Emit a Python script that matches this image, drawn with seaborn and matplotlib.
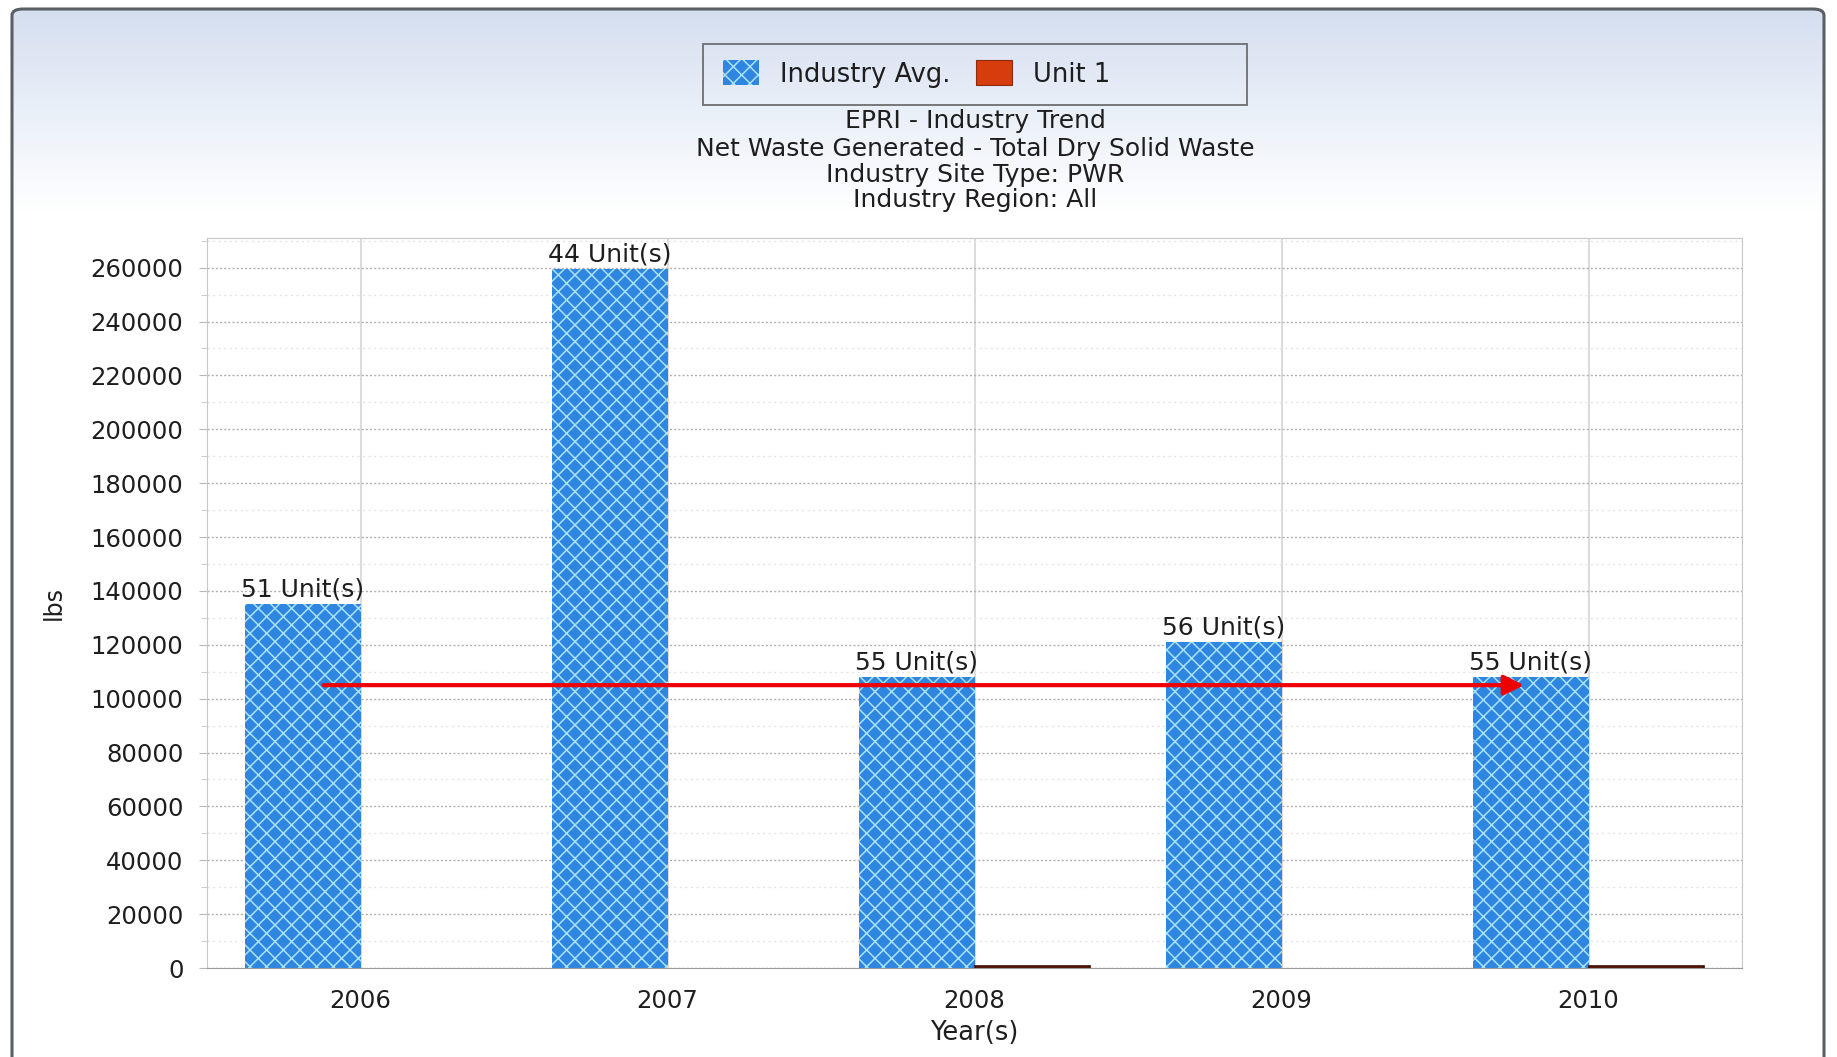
import numpy as np
import pandas as pd
import matplotlib.pyplot as plt
import seaborn as sns
from matplotlib.patches import Patch, Rectangle, FancyBboxPatch
from matplotlib.colors import LinearSegmentedColormap
from matplotlib.ticker import MultipleLocator

# chart data
years = ['2006', '2007', '2008', '2009', '2010']
industry_avg = [135000, 259500, 108000, 121000, 108000]
unit_1 = [0, 0, 700, 0, 700]
unit_counts = [51, 44, 55, 56, 55]
series_names = ['Industry Avg.', 'Unit 1']
title_lines = ['EPRI - Industry Trend',
               'Net Waste Generated - Total Dry Solid Waste',
               'Industry Site Type: PWR',
               'Industry Region: All']
y_ticks = list(range(0, 260001, 20000))
trend_value = 105000
trend_from, trend_to = -0.12, 3.79

BLUE = '#2f86e0'
HATCH = '#a8e2f8'
RED = '#d63c0c'
TXT = '#1e1e1e'

df = pd.DataFrame({
    'year': years * 2,
    'value': industry_avg + unit_1,
    'series': [series_names[0]] * len(years) + [series_names[1]] * len(years),
})

plt.rcParams['hatch.linewidth'] = 1.1
fig = plt.figure(figsize=(18.37, 10.57), dpi=100)

# background gradient inside a rounded frame
bg = fig.add_axes([0, 0, 1, 1], zorder=-10)
bg.axis('off')
frame = FancyBboxPatch((12 / 1837, -0.02), (1824 - 12) / 1837, 1 - 9 / 1057 + 0.02,
                       boxstyle='round,pad=0,rounding_size=0.006',
                       transform=bg.transAxes, facecolor='none',
                       edgecolor='#5a5f66', lw=2.2, zorder=3)
grad = np.linspace(0, 1, 600).reshape(-1, 1)
cmap = LinearSegmentedColormap.from_list('bg', ['#d3ddef', '#e9eff8', '#ffffff'])
im = bg.imshow(np.clip(grad / 0.2, 0, 1), aspect='auto', extent=[0, 1, 0, 1],
               origin='upper', cmap=cmap, transform=bg.transAxes)
bg.add_patch(frame)
bg.set_xlim(0, 1)
bg.set_ylim(0, 1)
im.set_clip_path(frame)

ax = fig.add_axes([207 / 1837, 1 - 968 / 1057, (1742 - 207) / 1837, (968 - 238) / 1057])
ax.set_facecolor('white')

sns.barplot(data=df, x='year', y='value', hue='series', palette=[BLUE, RED],
            width=0.75, gap=0, ax=ax, legend=False, zorder=2)

for bar in ax.containers[0]:
    bar.set_facecolor(BLUE)
    bar.set_edgecolor(HATCH)
    bar.set_hatch('xx')
    bar.set_linewidth(0)
for bar in ax.containers[1]:
    bar.set_edgecolor('#3a0800')
    bar.set_linewidth(1.2 if bar.get_height() > 0 else 0)

ax.bar_label(ax.containers[0], labels=[f'{n} Unit(s)' for n in unit_counts],
             padding=2, fontsize=18, color=TXT, zorder=4)

# trend arrow
ax.annotate('', xy=(trend_to, trend_value), xytext=(trend_from, trend_value),
            arrowprops=dict(arrowstyle='-|>', color='#ee0000', lw=3,
                            mutation_scale=30, shrinkA=0, shrinkB=0),
            zorder=5)

ax.set_xlim(-0.5, 4.5)
ax.set_ylim(0, 271000)
ax.set_yticks(y_ticks)
ax.set_yticklabels([str(v) for v in y_ticks])
ax.yaxis.set_minor_locator(MultipleLocator(10000))
ax.tick_params(axis='y', which='major', length=6, color='#b8b8b8', pad=11,
               labelsize=17.5, labelcolor=TXT)
ax.tick_params(axis='y', which='minor', length=4, color='#c8c8c8')
ax.tick_params(axis='x', length=0, pad=15, labelsize=17.5, labelcolor=TXT)

ax.grid(axis='y', which='major', linestyle=(0, (1.5, 1.5)), color='#b0b0b0', lw=1, zorder=0)
ax.grid(axis='y', which='minor', linestyle=(0, (1.5, 2.5)), color='#e4e4e4', lw=1, zorder=0)
ax.grid(axis='x', which='major', linestyle='-', color='#d4d4d4', lw=1.2, zorder=0)
ax.set_axisbelow(True)

for side in ['top', 'left', 'right']:
    ax.spines[side].set_color('#c8c8c8')
ax.spines['bottom'].set_color('#9a9a9a')

ax.set_xlabel('Year(s)', fontsize=18.5, color=TXT)
ax.set_ylabel('lbs', fontsize=17, color=TXT)
ax.xaxis.set_label_coords(0.5, -0.071)
ax.yaxis.set_label_coords(-0.092, 0.5)

# titles
for line, ypx in zip(title_lines, [121, 149, 175, 200]):
    fig.text(975 / 1837, 1 - ypx / 1057, line, ha='center', va='center',
             fontsize=18, color=TXT)

# legend with a fixed-width box
fig.patches.append(Rectangle((703 / 1837, 1 - 105 / 1057), 544 / 1837, 61 / 1057,
                             transform=fig.transFigure, facecolor='none',
                             edgecolor='#6e6e6e', lw=1.3))
handles = [Patch(facecolor=BLUE, edgecolor=HATCH, hatch='xx', lw=0, label=series_names[0]),
           Patch(facecolor=RED, edgecolor='#8a2a10', lw=0.8, label=series_names[1])]
fig.legend(handles=handles, loc='center left', bbox_to_anchor=(723 / 1837, 1 - 74 / 1057),
           ncol=2, frameon=False, fontsize=18.5, borderpad=0, borderaxespad=0,
           handlelength=1.4, handleheight=1.1, handletextpad=0.82, columnspacing=1.0,
           labelcolor=TXT)

fig.savefig('out.png', dpi=100)
